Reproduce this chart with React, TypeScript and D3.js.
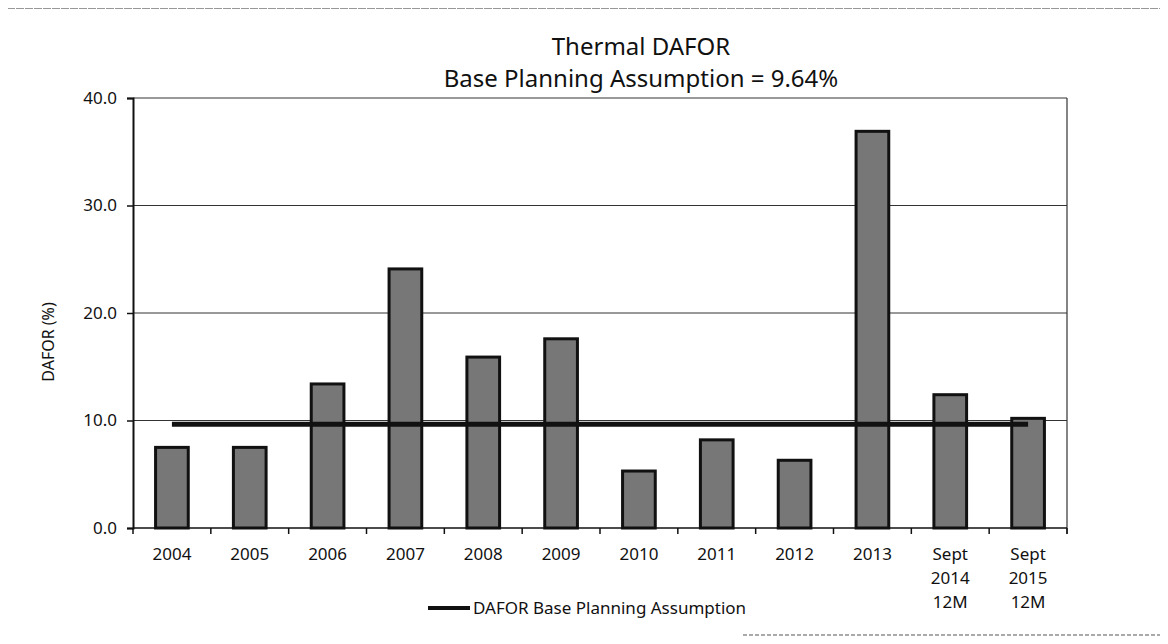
import { useEffect, useRef } from "react";
import * as d3 from "d3";

const categories = ["2004", "2005", "2006", "2007", "2008", "2009", "2010", "2011", "2012", "2013", "Sept 2014 12M", "Sept 2015 12M"];
const dafor = [7.5, 7.5, 13.4, 24.1, 15.9, 17.6, 5.3, 8.2, 6.3, 36.9, 12.4, 10.2];
const planning = [9.64, 9.64, 9.64, 9.64, 9.64, 9.64, 9.64, 9.64, 9.64, 9.64, 9.64, 9.64];
const yTicks = [0, 10, 20, 30, 40];
const titleLines = ["Thermal DAFOR", "Base Planning Assumption = 9.64%"];
const yTitle = "DAFOR (%)";
const legendLabel = "DAFOR Base Planning Assumption";

const W = 1168;
const H = 644;
const FONT = "'Noto Sans', sans-serif";

export default function App() {
    const svgRef = useRef<SVGSVGElement>(null);

    useEffect(() => {
        const svgEl = svgRef.current;
        if (!svgEl) return;

        const ml = 133;
        const mr = 1067;
        const mt = 98;
        const mb = 528;

        d3.select(svgEl).selectAll("*").remove();
        const svg = d3.select(svgEl);

        const x = d3.scaleBand<string>().domain(categories).range([ml, mr]).padding(0);
        const y = d3.scaleLinear().domain([0, 40]).range([mb, mt]);
        const barW = x.bandwidth() * 0.42;

        // outer frame (scanned, partly visible)
        svg.append("line").attr("x1", 7).attr("x2", 7).attr("y1", 8).attr("y2", 644)
            .attr("stroke", "#333").attr("stroke-width", 1.2).attr("stroke-dasharray", "6,1");
        svg.append("line").attr("x1", 7).attr("x2", W).attr("y1", 8).attr("y2", 8)
            .attr("stroke", "#333").attr("stroke-width", 1.2).attr("stroke-dasharray", "8,1");
        svg.append("line").attr("x1", 743).attr("x2", W).attr("y1", 635).attr("y2", 635)
            .attr("stroke", "#555").attr("stroke-width", 1).attr("stroke-dasharray", "4,2");

        // title
        svg.append("g")
            .selectAll("text")
            .data(titleLines)
            .join("text")
            .attr("x", (ml + mr) / 2 + 41)
            .attr("y", (_, i) => 55 + i * 32)
            .attr("text-anchor", "middle")
            .attr("font-family", FONT)
            .attr("font-size", "24px")
            .attr("fill", "#111")
            .text(d => d);

        // grid lines
        svg.append("g")
            .selectAll("line")
            .data(yTicks.filter(d => d > 0))
            .join("line")
            .attr("x1", ml)
            .attr("x2", mr)
            .attr("y1", d => y(d))
            .attr("y2", d => y(d))
            .attr("stroke", "#333")
            .attr("stroke-width", 1);

        // right border of plot
        svg.append("line").attr("x1", mr).attr("x2", mr).attr("y1", mt).attr("y2", mb + 6)
            .attr("stroke", "#333").attr("stroke-width", 1.2);

        // bars
        svg.append("g")
            .selectAll("rect")
            .data(dafor)
            .join("rect")
            .attr("x", (_, i) => (x(categories[i]) ?? 0) + (x.bandwidth() - barW) / 2)
            .attr("y", d => y(d))
            .attr("width", barW)
            .attr("height", d => mb - y(d))
            .attr("fill", "#777")
            .attr("stroke", "#111")
            .attr("stroke-width", 3);

        // planning line
        const line = d3.line<number>()
            .x((_, i) => (x(categories[i]) ?? 0) + x.bandwidth() / 2)
            .y(d => y(d));
        svg.append("path")
            .datum(planning)
            .attr("d", line)
            .attr("fill", "none")
            .attr("stroke", "#111")
            .attr("stroke-width", 5);

        // y axis
        const yAxis = svg.append("g")
            .attr("transform", `translate(${ml},0)`)
            .call(d3.axisLeft(y).tickValues(yTicks).tickSize(6).tickFormat(d => d3.format(".1f")(d as number)));
        yAxis.select(".domain").attr("stroke", "#111").attr("stroke-width", 2);
        yAxis.selectAll(".tick line").attr("stroke", "#111").attr("stroke-width", 1.5);
        yAxis.selectAll(".tick text")
            .attr("x", -16)
            .attr("font-family", FONT)
            .attr("font-size", "17px")
            .attr("fill", "#111");

        // x axis
        const xAxis = svg.append("g").attr("transform", `translate(0,${mb})`);
        xAxis.append("line").attr("x1", ml).attr("x2", mr).attr("y1", 0).attr("y2", 0)
            .attr("stroke", "#111").attr("stroke-width", 1.5);
        xAxis.selectAll("line.tick")
            .data(d3.range(categories.length + 1))
            .join("line")
            .attr("class", "tick")
            .attr("x1", i => ml + i * x.bandwidth())
            .attr("x2", i => ml + i * x.bandwidth())
            .attr("y1", 0)
            .attr("y2", 6)
            .attr("stroke", "#111")
            .attr("stroke-width", 1.5);
        xAxis.selectAll("text.lbl")
            .data(categories)
            .join("text")
            .attr("class", "lbl")
            .attr("x", d => (x(d) ?? 0) + x.bandwidth() / 2)
            .attr("y", 32)
            .attr("text-anchor", "middle")
            .attr("font-family", FONT)
            .attr("font-size", "17px")
            .attr("fill", "#111")
            .each(function (d) {
                const t = d3.select(this);
                d.split(" ").forEach((part, i) => {
                    t.append("tspan")
                        .attr("x", (x(d) ?? 0) + x.bandwidth() / 2)
                        .attr("dy", i === 0 ? 0 : 24)
                        .text(part);
                });
            });

        // y title
        svg.append("text")
            .attr("transform", `translate(54,${(mt + mb) / 2 + 29}) rotate(-90)`)
            .attr("text-anchor", "middle")
            .attr("font-family", FONT)
            .attr("font-size", "16px")
            .attr("fill", "#111")
            .text(yTitle);

        // legend
        const lg = svg.append("g").attr("transform", "translate(428,608)");
        lg.append("line").attr("x1", 0).attr("x2", 42).attr("y1", 0).attr("y2", 0)
            .attr("stroke", "#111").attr("stroke-width", 4);
        lg.append("text")
            .attr("x", 45)
            .attr("y", 6)
            .attr("font-family", FONT)
            .attr("font-size", "17px")
            .attr("fill", "#111")
            .text(legendLabel);
    }, []);

    return (
        <div style={{ width: W, height: H, margin: -8, background: "#fff" }}>
            <svg ref={svgRef} width={W} height={H} style={{ display: "block" }} />
        </div>
    );
}
